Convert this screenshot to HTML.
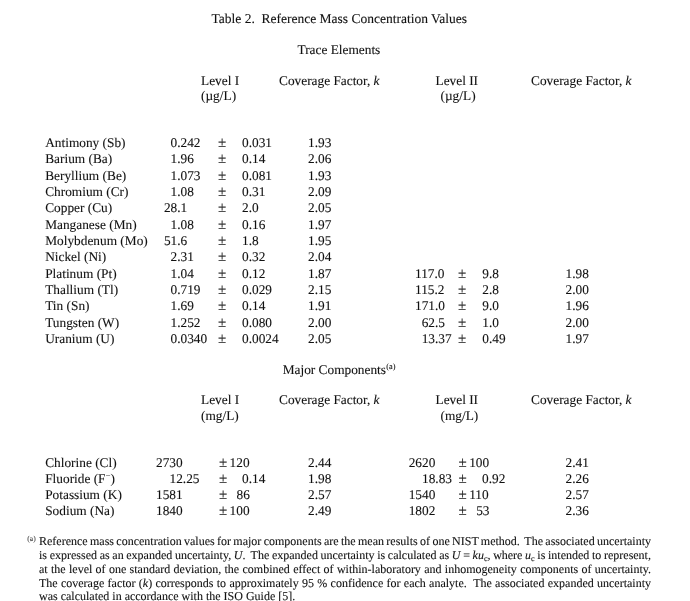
<!DOCTYPE html>
<html><head><meta charset="utf-8"><style>
html,body{margin:0;padding:0;background:#fff;width:690px;height:601px;overflow:hidden}
body{position:relative;font-family:"Liberation Serif",serif;color:#111;text-rendering:geometricPrecision}
.t{position:absolute;line-height:0;white-space:pre}
#pg{position:absolute;left:0;top:0;width:690px;height:601px;will-change:transform;-webkit-text-stroke:0.1px #111}
.t sup{font-size:8.3px;vertical-align:0;position:relative;top:-5px;margin-left:0.3px}
.fl{position:absolute;line-height:0;white-space:nowrap}
.sb{font-size:8px;position:relative;top:2px}
</style></head><body><div id="pg">
<div class="t" style="left:211.5px;top:19px;font-size:13.5px">Table 2.&nbsp; Reference Mass Concentration Values</div>
<div class="t" style="left:297.5px;top:50px;font-size:13.33px">Trace Elements</div>
<div class="t" style="left:201.0px;top:81px;font-size:13.33px">Level I</div>
<div class="t" style="left:201.0px;top:96px;font-size:13.33px">(µg/L)</div>
<div class="t" style="left:279.0px;top:81px;font-size:13.33px">Coverage Factor, <i>k</i></div>
<div class="t" style="left:435.5px;top:81px;font-size:13.33px">Level II</div>
<div class="t" style="left:440.5px;top:96px;font-size:13.33px">(µg/L)</div>
<div class="t" style="left:531.0px;top:81px;font-size:13.33px">Coverage Factor, <i>k</i></div>
<div class="t" style="left:45.2px;top:143px;font-size:13.33px">Antimony (Sb)</div>
<div class="t" style="left:170.5px;top:143px;font-size:13.33px">0.242</div>
<div class="t" style="left:218.0px;top:143px;font-size:15px">±</div>
<div class="t" style="left:242.0px;top:143px;font-size:13.33px">0.031</div>
<div class="t" style="left:308.0px;top:143px;font-size:13.33px">1.93</div>
<div class="t" style="left:45.2px;top:159px;font-size:13.33px">Barium (Ba)</div>
<div class="t" style="left:170.5px;top:159px;font-size:13.33px">1.96</div>
<div class="t" style="left:218.0px;top:159px;font-size:15px">±</div>
<div class="t" style="left:242.0px;top:159px;font-size:13.33px">0.14</div>
<div class="t" style="left:308.0px;top:159px;font-size:13.33px">2.06</div>
<div class="t" style="left:45.2px;top:176px;font-size:13.33px">Beryllium (Be)</div>
<div class="t" style="left:170.5px;top:176px;font-size:13.33px">1.073</div>
<div class="t" style="left:218.0px;top:176px;font-size:15px">±</div>
<div class="t" style="left:242.0px;top:176px;font-size:13.33px">0.081</div>
<div class="t" style="left:308.0px;top:176px;font-size:13.33px">1.93</div>
<div class="t" style="left:45.2px;top:192px;font-size:13.33px">Chromium (Cr)</div>
<div class="t" style="left:170.5px;top:192px;font-size:13.33px">1.08</div>
<div class="t" style="left:218.0px;top:192px;font-size:15px">±</div>
<div class="t" style="left:242.0px;top:192px;font-size:13.33px">0.31</div>
<div class="t" style="left:308.0px;top:192px;font-size:13.33px">2.09</div>
<div class="t" style="left:45.2px;top:208px;font-size:13.33px">Copper (Cu)</div>
<div class="t" style="left:163.9px;top:208px;font-size:13.33px">28.1</div>
<div class="t" style="left:218.0px;top:208px;font-size:15px">±</div>
<div class="t" style="left:242.0px;top:208px;font-size:13.33px">2.0</div>
<div class="t" style="left:308.0px;top:208px;font-size:13.33px">2.05</div>
<div class="t" style="left:45.2px;top:225px;font-size:13.33px">Manganese (Mn)</div>
<div class="t" style="left:170.5px;top:225px;font-size:13.33px">1.08</div>
<div class="t" style="left:218.0px;top:225px;font-size:15px">±</div>
<div class="t" style="left:242.0px;top:225px;font-size:13.33px">0.16</div>
<div class="t" style="left:308.0px;top:225px;font-size:13.33px">1.97</div>
<div class="t" style="left:45.2px;top:241px;font-size:13.33px">Molybdenum (Mo)</div>
<div class="t" style="left:163.9px;top:241px;font-size:13.33px">51.6</div>
<div class="t" style="left:218.0px;top:241px;font-size:15px">±</div>
<div class="t" style="left:242.0px;top:241px;font-size:13.33px">1.8</div>
<div class="t" style="left:308.0px;top:241px;font-size:13.33px">1.95</div>
<div class="t" style="left:45.2px;top:257px;font-size:13.33px">Nickel (Ni)</div>
<div class="t" style="left:170.5px;top:257px;font-size:13.33px">2.31</div>
<div class="t" style="left:218.0px;top:257px;font-size:15px">±</div>
<div class="t" style="left:242.0px;top:257px;font-size:13.33px">0.32</div>
<div class="t" style="left:308.0px;top:257px;font-size:13.33px">2.04</div>
<div class="t" style="left:45.2px;top:274px;font-size:13.33px">Platinum (Pt)</div>
<div class="t" style="left:170.5px;top:274px;font-size:13.33px">1.04</div>
<div class="t" style="left:218.0px;top:274px;font-size:15px">±</div>
<div class="t" style="left:242.0px;top:274px;font-size:13.33px">0.12</div>
<div class="t" style="left:308.0px;top:274px;font-size:13.33px">1.87</div>
<div class="t" style="left:415.0px;top:274px;font-size:13.33px">117.0</div>
<div class="t" style="left:458.0px;top:274px;font-size:15px">±</div>
<div class="t" style="left:482.3px;top:274px;font-size:13.33px">9.8</div>
<div class="t" style="left:565.5px;top:274px;font-size:13.33px">1.98</div>
<div class="t" style="left:45.2px;top:290px;font-size:13.33px">Thallium (Tl)</div>
<div class="t" style="left:170.5px;top:290px;font-size:13.33px">0.719</div>
<div class="t" style="left:218.0px;top:290px;font-size:15px">±</div>
<div class="t" style="left:242.0px;top:290px;font-size:13.33px">0.029</div>
<div class="t" style="left:308.0px;top:290px;font-size:13.33px">2.15</div>
<div class="t" style="left:415.0px;top:290px;font-size:13.33px">115.2</div>
<div class="t" style="left:458.0px;top:290px;font-size:15px">±</div>
<div class="t" style="left:482.3px;top:290px;font-size:13.33px">2.8</div>
<div class="t" style="left:565.5px;top:290px;font-size:13.33px">2.00</div>
<div class="t" style="left:45.2px;top:306px;font-size:13.33px">Tin (Sn)</div>
<div class="t" style="left:170.5px;top:306px;font-size:13.33px">1.69</div>
<div class="t" style="left:218.0px;top:306px;font-size:15px">±</div>
<div class="t" style="left:242.0px;top:306px;font-size:13.33px">0.14</div>
<div class="t" style="left:308.0px;top:306px;font-size:13.33px">1.91</div>
<div class="t" style="left:415.0px;top:306px;font-size:13.33px">171.0</div>
<div class="t" style="left:458.0px;top:306px;font-size:15px">±</div>
<div class="t" style="left:482.3px;top:306px;font-size:13.33px">9.0</div>
<div class="t" style="left:565.5px;top:306px;font-size:13.33px">1.96</div>
<div class="t" style="left:45.2px;top:323px;font-size:13.33px">Tungsten (W)</div>
<div class="t" style="left:170.5px;top:323px;font-size:13.33px">1.252</div>
<div class="t" style="left:218.0px;top:323px;font-size:15px">±</div>
<div class="t" style="left:242.0px;top:323px;font-size:13.33px">0.080</div>
<div class="t" style="left:308.0px;top:323px;font-size:13.33px">2.00</div>
<div class="t" style="left:421.7px;top:323px;font-size:13.33px">62.5</div>
<div class="t" style="left:458.0px;top:323px;font-size:15px">±</div>
<div class="t" style="left:482.3px;top:323px;font-size:13.33px">1.0</div>
<div class="t" style="left:565.5px;top:323px;font-size:13.33px">2.00</div>
<div class="t" style="left:45.2px;top:339px;font-size:13.33px">Uranium (U)</div>
<div class="t" style="left:170.5px;top:339px;font-size:13.33px">0.0340</div>
<div class="t" style="left:218.0px;top:339px;font-size:15px">±</div>
<div class="t" style="left:242.0px;top:339px;font-size:13.33px">0.0024</div>
<div class="t" style="left:308.0px;top:339px;font-size:13.33px">2.05</div>
<div class="t" style="left:421.7px;top:339px;font-size:13.33px">13.37</div>
<div class="t" style="left:458.0px;top:339px;font-size:15px">±</div>
<div class="t" style="left:482.3px;top:339px;font-size:13.33px">0.49</div>
<div class="t" style="left:565.5px;top:339px;font-size:13.33px">1.97</div>
<div class="t" style="left:282.7px;top:370px;font-size:13.33px">Major Components<sup>(a)</sup></div>
<div class="t" style="left:201.0px;top:400px;font-size:13.33px">Level I</div>
<div class="t" style="left:201.0px;top:416px;font-size:13.33px">(mg/L)</div>
<div class="t" style="left:279.0px;top:400px;font-size:13.33px">Coverage Factor, <i>k</i></div>
<div class="t" style="left:435.5px;top:400px;font-size:13.33px">Level II</div>
<div class="t" style="left:440.5px;top:416px;font-size:13.33px">(mg/L)</div>
<div class="t" style="left:531.0px;top:400px;font-size:13.33px">Coverage Factor, <i>k</i></div>
<div class="t" style="left:45.2px;top:463px;font-size:13.33px">Chlorine (Cl)</div>
<div class="t" style="left:156.0px;top:463px;font-size:13.33px">2730</div>
<div class="t" style="left:219.0px;top:463px;font-size:15px">±</div>
<div class="t" style="left:229.6px;top:463px;font-size:13.33px">120</div>
<div class="t" style="left:308.0px;top:463px;font-size:13.33px">2.44</div>
<div class="t" style="left:408.7px;top:463px;font-size:13.33px">2620</div>
<div class="t" style="left:458.6px;top:463px;font-size:15px">±</div>
<div class="t" style="left:469.2px;top:463px;font-size:13.33px">100</div>
<div class="t" style="left:565.5px;top:463px;font-size:13.33px">2.41</div>
<div class="t" style="left:45.2px;top:479px;font-size:13.33px">Fluoride (F<sup>−</sup>)</div>
<div class="t" style="left:169.5px;top:479px;font-size:13.33px">12.25</div>
<div class="t" style="left:219.0px;top:479px;font-size:15px">±</div>
<div class="t" style="left:242.0px;top:479px;font-size:13.33px">0.14</div>
<div class="t" style="left:308.0px;top:479px;font-size:13.33px">1.98</div>
<div class="t" style="left:422.0px;top:479px;font-size:13.33px">18.83</div>
<div class="t" style="left:458.6px;top:479px;font-size:15px">±</div>
<div class="t" style="left:482.0px;top:479px;font-size:13.33px">0.92</div>
<div class="t" style="left:565.5px;top:479px;font-size:13.33px">2.26</div>
<div class="t" style="left:45.2px;top:495px;font-size:13.33px">Potassium (K)</div>
<div class="t" style="left:156.0px;top:495px;font-size:13.33px">1581</div>
<div class="t" style="left:219.0px;top:495px;font-size:15px">±</div>
<div class="t" style="left:236.6px;top:495px;font-size:13.33px">86</div>
<div class="t" style="left:308.0px;top:495px;font-size:13.33px">2.57</div>
<div class="t" style="left:408.7px;top:495px;font-size:13.33px">1540</div>
<div class="t" style="left:458.6px;top:495px;font-size:15px">±</div>
<div class="t" style="left:469.2px;top:495px;font-size:13.33px">110</div>
<div class="t" style="left:565.5px;top:495px;font-size:13.33px">2.57</div>
<div class="t" style="left:45.2px;top:511px;font-size:13.33px">Sodium (Na)</div>
<div class="t" style="left:156.0px;top:511px;font-size:13.33px">1840</div>
<div class="t" style="left:219.0px;top:511px;font-size:15px">±</div>
<div class="t" style="left:229.6px;top:511px;font-size:13.33px">100</div>
<div class="t" style="left:308.0px;top:511px;font-size:13.33px">2.49</div>
<div class="t" style="left:408.7px;top:511px;font-size:13.33px">1802</div>
<div class="t" style="left:458.6px;top:511px;font-size:15px">±</div>
<div class="t" style="left:476.2px;top:511px;font-size:13.33px">53</div>
<div class="t" style="left:565.5px;top:511px;font-size:13.33px">2.36</div>
<div class="fl" style="left:39px;top:541px;font-size:12px;word-spacing:-0.649px">Reference mass concentration values for major components are the mean results of one NIST method.&nbsp; The associated uncertainty</div>
<div class="fl" style="left:39px;top:555px;font-size:12px;word-spacing:-0.337px">is expressed as an expanded uncertainty, <i>U</i>.&nbsp; The expanded uncertainty is calculated as <i>U</i> = <i>ku</i><span class="sb">c</span>, where <i>u</i><span class="sb">c</span> is intended to represent,</div>
<div class="fl" style="left:39px;top:569px;font-size:12px;word-spacing:0.324px">at the level of one standard deviation, the combined effect of within-laboratory and inhomogeneity components of uncertainty.</div>
<div class="fl" style="left:39px;top:583px;font-size:12px;word-spacing:0.302px">The coverage factor (<i>k</i>) corresponds to approximately 95 % confidence for each analyte.&nbsp; The associated expanded uncertainty</div>
<div class="fl" style="left:39px;top:596px;font-size:12px;word-spacing:0.000px">was calculated in accordance with the ISO Guide [5].</div>
<div class="t" style="left:27.3px;top:539px;font-size:7.6px;color:#555">(a)</div>
</div></body></html>
